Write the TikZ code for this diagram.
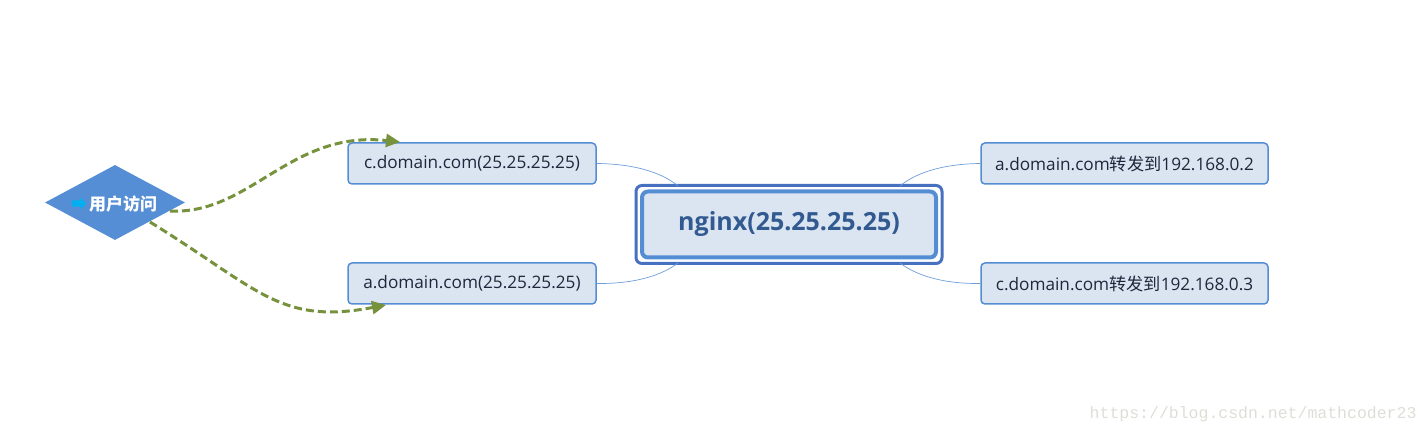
\documentclass[tikz,border=0pt]{standalone}
\usepackage{fontspec}
\setmainfont{Open Sans}
\newfontfamily\cjk{Noto Sans CJK SC}
\newfontfamily\wmfont{Liberation Mono}
\usetikzlibrary{shapes.geometric,shapes.arrows,fit,arrows.meta}
\definecolor{boxfill}{RGB}{219,229,241}
\definecolor{boxline}{RGB}{84,141,212}
\definecolor{outerline}{RGB}{72,112,192}
\definecolor{nginxtext}{RGB}{50,90,145}
\definecolor{boxtext}{RGB}{30,40,60}
\definecolor{dashgreen}{RGB}{118,146,60}
\definecolor{diafill}{RGB}{85,142,213}
\definecolor{arrowcyan}{RGB}{0,176,240}
\definecolor{wmgrey}{RGB}{222,222,216}
\tikzset{
  leafbox/.style={draw=boxline, fill=boxfill, line width=1.5pt, rounded corners=4pt,
    minimum height=41pt, inner sep=0pt, text=boxtext, font=\fontsize{17.2}{20}\selectfont},
  link/.style={draw=boxline!85, line width=0.7pt},
  access/.style={draw=dashgreen, line width=3pt, dash pattern=on 8pt off 4pt,
    -{Triangle[length=14pt,width=13pt]}},
}
\begin{document}
\begin{tikzpicture}[x=1pt,y=-1pt]
\useasboundingbox (0,0) rectangle (1428,435);
% nodes
\node[leafbox, minimum width=248pt] (cbox) at (472,163.5) {c.domain.com(25.25.25.25)};
\node[leafbox, minimum width=248pt] (abox) at (472,283.5) {a.domain.com(25.25.25.25)};
\node[leafbox, minimum width=287pt] (afwd) at (1124.5,163.5) {a.domain.com{\cjk 转发到}192.168.0.2};
\node[leafbox, minimum width=287pt] (cfwd) at (1124.5,283.5) {c.domain.com{\cjk 转发到}192.168.0.3};
\node[draw=boxline, fill=boxfill, line width=4pt, rounded corners=6pt,
  minimum width=294pt, minimum height=66pt, inner sep=0pt, text=nginxtext,
  font=\bfseries\fontsize{25}{30}\selectfont] (nginx) at (789,224.5) {\raisebox{-1.5pt}{nginx(25.25.25.25)}};
\node[fit=(nginx), inner sep=4pt, draw=outerline, line width=3pt, rounded corners=6pt] (nginxouter) {};
\node[diamond, fill=diafill, minimum width=140pt, minimum height=75pt, inner sep=0pt, aspect=1.87] (user) at (115,202.5) {};
\node[single arrow, fill=arrowcyan, minimum height=14pt, inner sep=3pt,
  single arrow head extend=3pt, single arrow tip angle=100] (usericon) at (77.5,203.5) {};
\node[text=white, font=\cjk\bfseries\fontsize{17}{19}\selectfont, anchor=west, inner sep=0pt] (userlabel) at (89,204)
  {用户访问};
% coordinates on nginx frame
\coordinate (ntl) at (678,186);
\coordinate (nbl) at (678,263);
\coordinate (ntr) at (900,186);
\coordinate (nbr) at (900,263);
\draw[link] (cbox.east) .. controls (640,164) and (665,175) .. (ntl);
\draw[link] (abox.east) .. controls (640,284) and (665,273) .. (nbl);
\draw[link] (afwd.west) .. controls (938,164) and (913,175) .. (ntr);
\draw[link] (cfwd.west) .. controls (938,284) and (913,273) .. (nbr);
% access arrows
\coordinate (us1) at (170,211);
\coordinate (us2) at (150,222);
\coordinate (ctip) at (400,142);
\coordinate (atip) at (386,305);
\draw[access] (us1) .. controls (250,215) and (290,130) .. (ctip);
\draw[access] (us2) .. controls (260,290) and (280,325) .. (atip);
% watermark
\node[text=wmgrey, font=\wmfont\fontsize{16.5}{18}\selectfont, anchor=east] (wm) at (1420,414) {https://blog.csdn.net/mathcoder23};
\end{tikzpicture}
\end{document}
